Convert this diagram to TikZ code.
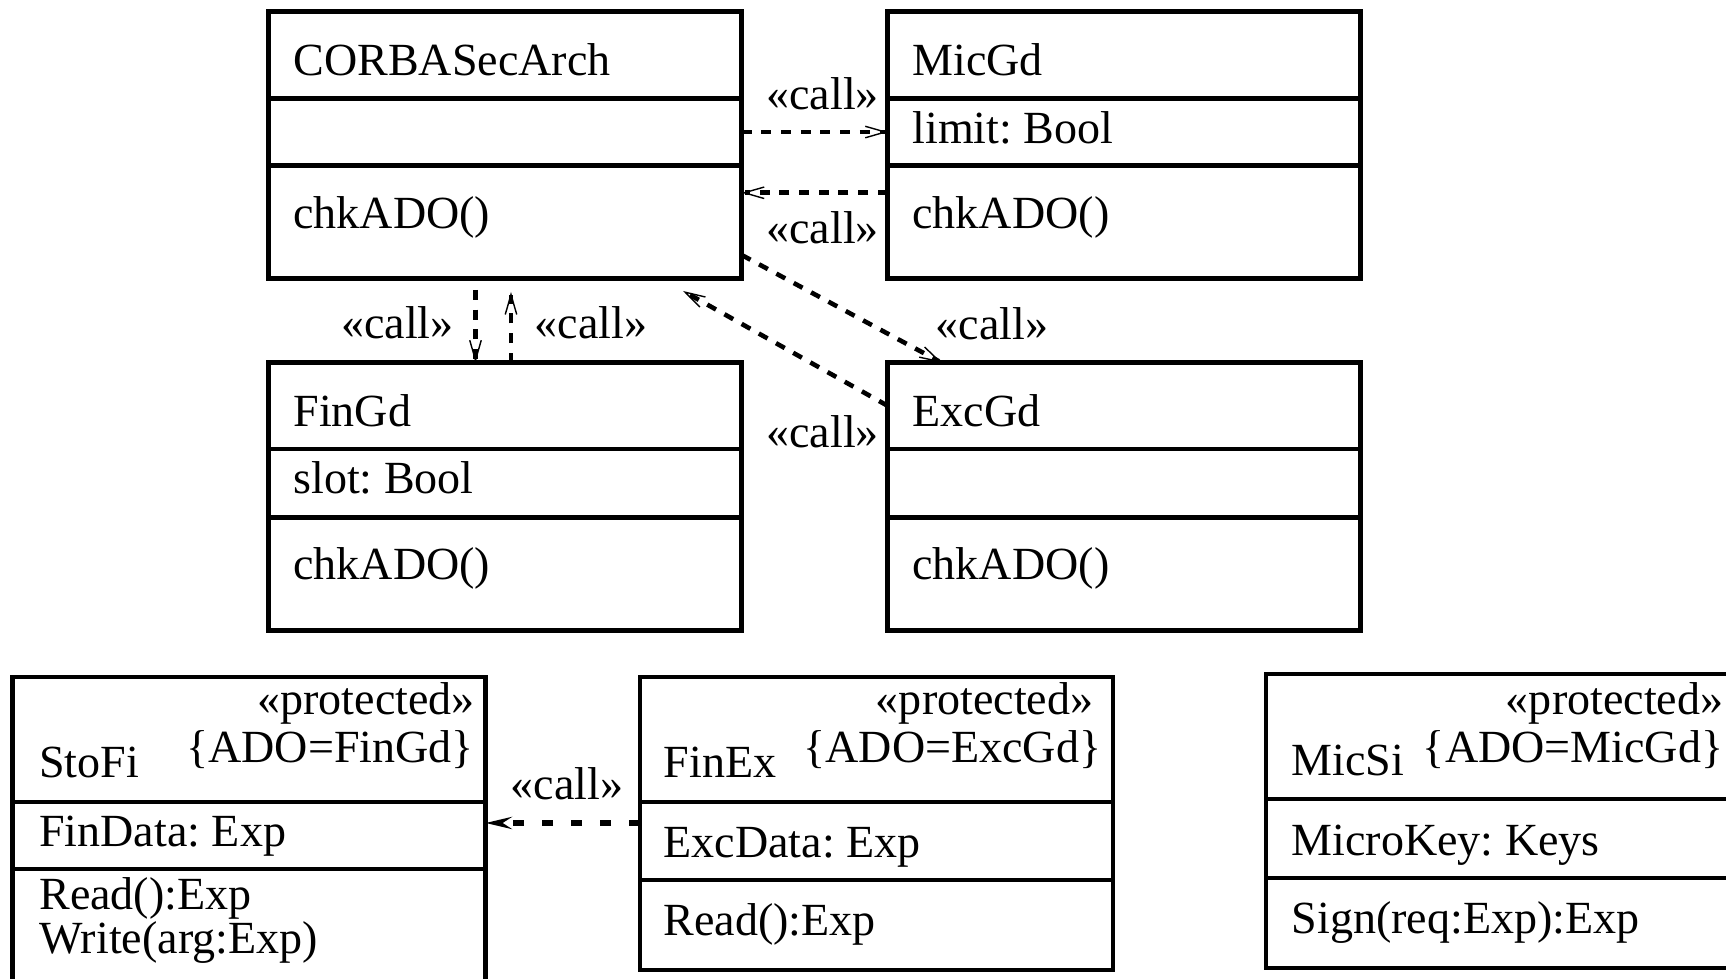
\documentclass[tikz,border=0pt]{standalone}
\usepackage{fontspec}
\setmainfont{Liberation Serif}
\usepackage{tikz}
\usetikzlibrary{positioning}
\usetikzlibrary{arrows.meta}
\tikzset{>=stealth}
\tikzset{
	part/.style={draw, line width=1.35pt, inner sep=0pt, outer sep=0pt, minimum width=47.3mm},
	txt/.style={anchor=base west, inner sep=0pt},
	txtr/.style={anchor=base east, inner sep=0pt},
	calltxt/.style={anchor=base, inner sep=0pt},
	call/.style={line width=1.3pt, dash pattern=on 1mm off 0.97mm, -{Straight Barb[length=2mm,width=1.15mm,line width=0.4pt].}},
	callfin/.style={line width=1.45pt, dash pattern=on 1.15mm off 1.75mm, -{Stealth[length=2.6mm,width=1.2mm,inset=0.9mm]}}
}
\frenchspacing

\begin{document}
\begin{tikzpicture}[x=0.1mm, y=-0.1mm, font=\fontsize{13.1pt}{15.7pt}\selectfont]
			\useasboundingbox (0,0) rectangle (1726,979);
			\node[part, minimum height=8.67mm, anchor=north west] (corbaName) at (268.7,11.6) {};
			\node[part, minimum height=6.75mm, below=0pt of corbaName] (corbaAttr) {};
			\node[part, minimum height=11.28mm, below=0pt of corbaAttr] (corbaOps) {};
			\node[txt] (corbaTitle) at ([shift={(24,64)}]corbaName.north west) {CORBASecArch};
			\node[txt] (corbaOp) at ([shift={(24,63)}]corbaOps.north west) {chkADO()};
			\node[part, minimum height=8.67mm, anchor=north west] (micName) at (887.8,11.6) {};
			\node[part, minimum height=6.75mm, below=0pt of micName] (micAttr) {};
			\node[part, minimum height=11.28mm, below=0pt of micAttr] (micOps) {};
			\node[txt] (micTitle) at ([shift={(24,64)}]micName.north west) {MicGd};
			\node[txt] (micField) at ([shift={(24,45)}]micAttr.north west) {limit: Bool};
			\node[txt] (micOp) at ([shift={(24,63)}]micOps.north west) {chkADO()};
			\node[part, minimum height=8.62mm, anchor=north west] (finName) at (268.7,362.8) {};
			\node[part, minimum height=6.84mm, below=0pt of finName] (finAttr) {};
			\node[part, minimum height=11.28mm, below=0pt of finAttr] (finOps) {};
			\node[txt] (finTitle) at ([shift={(24,64)}]finName.north west) {FinGd};
			\node[txt] (finField) at ([shift={(24,45)}]finAttr.north west) {slot: Bool};
			\node[txt] (finOp) at ([shift={(24,62)}]finOps.north west) {chkADO()};
			\node[part, minimum height=8.62mm, anchor=north west] (excName) at (887.8,362.8) {};
			\node[part, minimum height=6.84mm, below=0pt of excName] (excAttr) {};
			\node[part, minimum height=11.28mm, below=0pt of excAttr] (excOps) {};
			\node[txt] (excTitle) at ([shift={(24,64)}]excName.north west) {ExcGd};
			\node[txt] (excOp) at ([shift={(24,62)}]excOps.north west) {chkADO()};
			\node[part, minimum height=12.5mm, anchor=north west] (stoName) at (12.6,677) {};
			\node[part, minimum height=6.7mm, below=0pt of stoName] (stoAttr) {};
			\node[part, minimum height=14mm, below=0pt of stoAttr] (stoOps) {};
			\node[txt] (stoTitle) at ([shift={(26,101)}]stoName.north west) {StoFi};
			\node[txtr] (stoStereo) at ([shift={(-10,38)}]stoName.north east) {«protected»};
			\node[txtr] (stoTag) at ([shift={(-11,86)}]stoName.north east) {\{ADO=FinGd\}};
			\node[txt] (stoField) at ([shift={(26,45)}]stoAttr.north west) {FinData: Exp};
			\node[txt] (stoRead) at ([shift={(26,41)}]stoOps.north west) {Read():Exp};
			\node[txt] (stoWrite) at ([shift={(26,85)}]stoOps.north west) {Write(arg:Exp)};
			\node[part, minimum height=12.5mm, anchor=north west] (finExName) at (640,677) {};
			\node[part, minimum height=7.8mm, below=0pt of finExName] (finExAttr) {};
			\node[part, minimum height=9mm, below=0pt of finExAttr] (finExOps) {};
			\node[txt] (finExTitle) at ([shift={(23,101)}]finExName.north west) {FinEx};
			\node[txtr] (finExStereo) at ([shift={(-19,38)}]finExName.north east) {«protected»};
			\node[txtr] (finExTag) at ([shift={(-11,86)}]finExName.north east) {\{ADO=ExcGd\}};
			\node[txt] (finExField) at ([shift={(23,56)}]finExAttr.north west) {ExcData: Exp};
			\node[txt] (finExRead) at ([shift={(23,56)}]finExOps.north west) {Read():Exp};
			\node[part, minimum height=12.5mm, anchor=north west] (micSiName) at (1266,674) {};
			\node[part, minimum height=7.9mm, below=0pt of micSiName] (micSiAttr) {};
			\node[part, minimum height=9mm, below=0pt of micSiAttr] (micSiOps) {};
			\node[txt] (micSiTitle) at ([shift={(25,102)}]micSiName.north west) {MicSi};
			\node[txtr] (micSiStereo) at ([shift={(-15,41)}]micSiName.north east) {«protected»};
			\node[txtr] (micSiTag) at ([shift={(-15,89)}]micSiName.north east) {\{ADO=MicGd\}};
			\node[txt] (micSiField) at ([shift={(25,57)}]micSiAttr.north west) {MicroKey: Keys};
			\node[txt] (micSiSign) at ([shift={(25,56)}]micSiOps.north west) {Sign(req:Exp):Exp};
			\node[calltxt] (callMic) at (822.7,110) {«call»};
			\node[calltxt] (callBack) at (822.7,243.5) {«call»};
			\node[calltxt] (callExc) at (992,339.5) {«call»};
			\node[calltxt] (callExcBack) at (822.7,447.5) {«call»};
			\node[calltxt] (callFin) at (397.5,338.5) {«call»};
			\node[calltxt] (callFinBack) at (591,338.5) {«call»};
			\node[calltxt] (callSto) at (567,800) {«call»};
			\coordinate (backTip) at (683,291);
			\coordinate (downTail) at (475.5,290);
			\coordinate (upTip) at (511,292);
			\draw[call] (corbaAttr.east) -- (micAttr.west);
			\draw[call] ([shift={(0,27)}]micOps.north west) -- ([shift={(0,27)}]corbaOps.north east);
			\draw[call] ([shift={(0,-23.6)}]corbaOps.south east) -- ([shift={(54,0)}]excName.north west);
			\draw[call] (excName.west) -- (backTip);
			\draw[call] (downTail) -- (downTail |- finName.north);
			\draw[call] (upTip |- finName.north) -- (upTip);
			\draw[callfin] ([shift={(0,21)}]finExAttr.north west) -- ([shift={(0,21)}]stoAttr.north east);
		\end{tikzpicture}
\end{document}
